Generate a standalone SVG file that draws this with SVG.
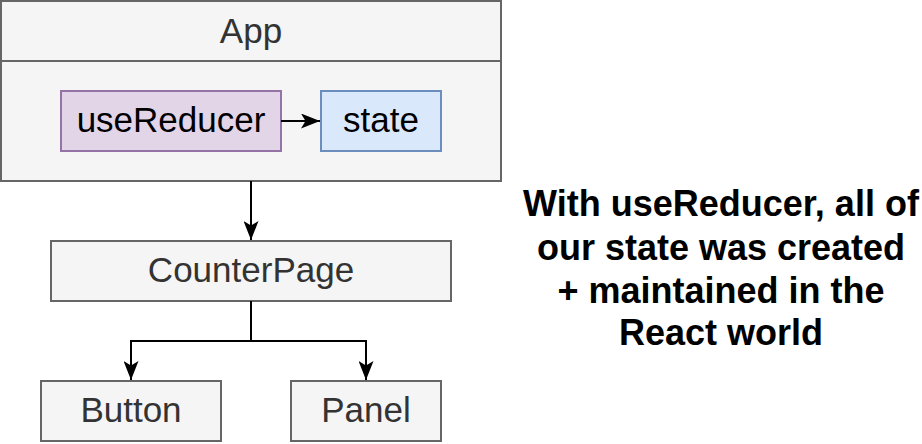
<svg xmlns="http://www.w3.org/2000/svg" width="922" height="444" viewBox="0 0 922 444">
<style>
.box{fill:#f5f5f5;stroke:#666666;stroke-width:2}
.purple{fill:#e1d5e7;stroke:#9673a6;stroke-width:2}
.blue{fill:#dae8fc;stroke:#6c8ebf;stroke-width:2}
.lbl{font-family:"Liberation Sans",Arial,sans-serif;font-size:35px;text-anchor:middle}
.gray{fill:#333333}
.dark{fill:#000000}
.note{font-family:"Liberation Sans",Arial,sans-serif;font-size:36px;font-weight:bold;text-anchor:middle;fill:#000000}
.edge{fill:none;stroke:#000000;stroke-width:2}
</style>
<defs>
<marker id="arr" viewBox="0 0 19 15" refX="19" refY="7.5" markerWidth="19" markerHeight="15" markerUnits="userSpaceOnUse" orient="auto">
<path d="M0,0 L19,7.5 L0,15 L4.5,7.5 Z" fill="#000000"/>
</marker>
</defs>
<rect width="922" height="444" fill="#ffffff"/>
<g id="app">
<rect class="box" x="1" y="1" width="500" height="180"/>
<line x1="1" y1="61" x2="501" y2="61" stroke="#666666" stroke-width="2"/>
<text class="lbl gray" x="251" y="43">App</text>
</g>
<g id="useReducer">
<rect class="purple" x="61" y="91" width="220" height="60"/>
<text class="lbl dark" x="171" y="132">useReducer</text>
</g>
<g id="state">
<rect class="blue" x="321" y="91" width="120" height="60"/>
<text class="lbl dark" x="381" y="132">state</text>
</g>
<g id="counterPage">
<rect class="box" x="51" y="241" width="400" height="60"/>
<text class="lbl gray" x="251" y="282">CounterPage</text>
</g>
<g id="button">
<rect class="box" x="41" y="381" width="180" height="60"/>
<text class="lbl gray" x="131" y="422">Button</text>
</g>
<g id="panel">
<rect class="box" x="291" y="381" width="150" height="60"/>
<text class="lbl gray" x="366" y="422">Panel</text>
</g>
<g id="note">
<text class="note" x="721" y="216">With useReducer, all of</text>
<text class="note" x="721" y="260">our state was created</text>
<text class="note" x="721" y="303">+ maintained in the</text>
<text class="note" x="721" y="345">React world</text>
</g>
<g id="connectors">
<path class="edge" d="M281,121 L320,121" marker-end="url(#arr)"/>
<path class="edge" d="M251,181 L251,240" marker-end="url(#arr)"/>
<path class="edge" d="M251,301 L251,341 L131,341 L131,380" marker-end="url(#arr)"/>
<path class="edge" d="M251,341 L366,341 L366,380" marker-end="url(#arr)"/>
</g>
</svg>
